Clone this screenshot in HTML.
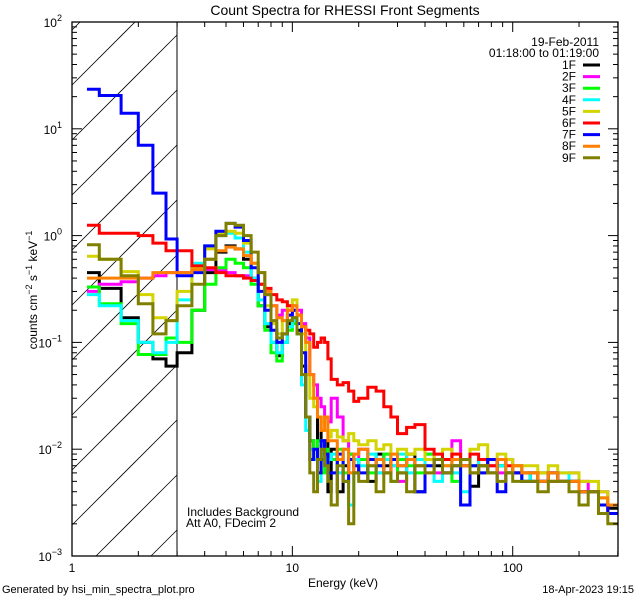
<!DOCTYPE html>
<html><head><meta charset="utf-8"><style>
html,body{margin:0;padding:0;background:#fff;width:640px;height:600px;overflow:hidden;}
svg{display:block;}
svg text{font-family:"Liberation Sans",sans-serif;fill:#000;}
</style></head><body>
<svg id="chart" width="640" height="600" viewBox="0 0 640 600" xmlns="http://www.w3.org/2000/svg" overflow="hidden">
<rect width="640" height="600" fill="#fff"/>
<defs><clipPath id="plotclip"><rect x="72" y="22" width="546" height="534"/></clipPath></defs>
<g id="hatch"></g>
<line x1="177" y1="22" x2="177" y2="556" stroke="#000" stroke-width="1"/>
<g id="series" clip-path="url(#plotclip)"></g>
<rect x="72" y="22" width="546" height="534" fill="none" stroke="#000" stroke-width="1.3"/>
<g id="ticks"></g>
<text x="345" y="15" font-size="14" text-anchor="middle">Count Spectra for RHESSI Front Segments</text>
<text x="343" y="587" font-size="12" text-anchor="middle">Energy (keV)</text>
<text transform="translate(37,290) rotate(-90)" font-size="12" text-anchor="middle">counts cm<tspan dy="-5" font-size="9">−2</tspan><tspan dy="5"> s</tspan><tspan dy="-5" font-size="9">−1</tspan><tspan dy="5"> keV</tspan><tspan dy="-5" font-size="9">−1</tspan></text>
<text x="599" y="46" font-size="12" text-anchor="end">19-Feb-2011</text>
<text x="599" y="57" font-size="12" text-anchor="end">01:18:00 to 01:19:00</text>
<g id="legend"></g>
<text x="187" y="516" font-size="12">Includes Background</text>
<text x="186" y="527" font-size="12">Att A0, FDecim 2</text>
<text x="2" y="593" font-size="11">Generated by hsi_min_spectra_plot.pro</text>
<text x="634" y="593" font-size="11" text-anchor="end">18-Apr-2023 19:15</text>
</svg>
<script>
const edges=[1.17,1.33,1.67,2.0,2.33,2.67,3.0,3.5,4,4.5,5,5.5,6,6.5,7,7.5,8,8.5,9,9.5,10,10.5,11,11.5,12,12.5,13,13.5,14,14.5,15,16,17,18,19,20,22,24,26,28,30,33,36,40,44,48,53,58,64,70,77,85,93,100,110,120,130,145,160,180,200,220,245,270,300];
const seriesNames=["1F","2F","3F","4F","5F","6F","7F","8F","9F"];
const seriesColors=["#000000","#ff00ff","#00ff00","#00ffff","#d4d400","#ff0000","#0000ff","#ff8000","#808000"];
const s1F=[0.45,0.32,0.17,0.1,0.07,0.06, 0.08,0.2,0.45,0.7,0.8,0.75,0.6,0.4,0.22,0.14,0.1,0.075,0.1,0.15,0.17,0.13,0.06,0.02,0.012,0.01,0.02,0.008,0.012,0.004, 0.01,0.004,0.007,0.009,0.006,0.008,0.005,0.009,0.007,0.008,0.006,0.009,0.004,0.008,0.007,0.006,0.008,0.007,0.0045,0.007,0.006,0.007,0.006,0.006,0.005,0.006,0.005,0.006,0.005,0.005,0.004,0.004,0.003,0.0028];
const s2F=[0.3,0.35,0.37,0.4,0.42,0.45, 0.45,0.5,0.48,0.47,0.45,0.42,0.42,0.4,0.35,0.28,0.22,0.18,0.2,0.2,0.22,0.2,0.15,0.11,0.05,0.04,0.03,0.025,0.02,0.018, 0.03,0.02,0.012,0.009,0.006,0.01,0.008,0.006,0.009,0.007,0.005,0.008,0.007,0.009,0.006,0.008,0.012,0.007,0.006,0.008,0.007,0.006,0.008,0.007,0.006,0.005,0.006,0.006,0.005,0.006,0.005,0.004,0.004,0.003];
const s3F=[0.33,0.23,0.15,0.077,0.077,0.11, 0.1,0.2,0.35,0.5,0.6,0.55,0.5,0.35,0.22,0.13,0.08,0.067,0.1,0.13,0.15,0.12,0.05,0.02,0.012,0.008,0.012,0.006,0.01,0.008, 0.008,0.01,0.006,0.009,0.007,0.008,0.006,0.007,0.009,0.005,0.008,0.007,0.006,0.009,0.008,0.007,0.005,0.008,0.007,0.006,0.008,0.007,0.006,0.007,0.006,0.005,0.006,0.005,0.005,0.005,0.004,0.004,0.0035,0.003];
const s4F=[0.28,0.22,0.16,0.1,0.08,0.1, 0.25,0.55,0.8,1.0,1.05,0.95,0.7,0.4,0.25,0.15,0.1,0.08,0.1,0.14,0.16,0.12,0.04,0.015,0.01,0.008,0.005,0.01,0.007,0.008, 0.009,0.006,0.01,0.003,0.008,0.007,0.009,0.006,0.008,0.007,0.009,0.006,0.008,0.007,0.005,0.008,0.006,0.004,0.007,0.008,0.006,0.007,0.006,0.006,0.005,0.006,0.005,0.005,0.006,0.005,0.004,0.004,0.003,0.003];
const s5F=[0.64,0.6,0.46,0.28,0.17,0.16, 0.3,0.5,0.75,1.05,1.1,1.05,0.85,0.55,0.35,0.22,0.15,0.12,0.16,0.22,0.25,0.18,0.12,0.05,0.03,0.025,0.02,0.018,0.015,0.013, 0.015,0.013,0.012,0.014,0.012,0.011,0.012,0.01,0.011,0.009,0.01,0.009,0.01,0.008,0.009,0.01,0.009,0.008,0.01,0.011,0.008,0.009,0.008,0.007,0.007,0.007,0.006,0.007,0.006,0.006,0.005,0.005,0.004,0.003];
const s6F=[1.25,1.05,1.05,1.0,0.85,0.72, 0.72,0.52,0.5,0.45,0.42,0.42,0.4,0.38,0.35,0.32,0.28,0.25,0.24,0.22,0.2,0.18,0.14,0.13,0.12,0.09,0.1,0.11,0.1,0.07, 0.045,0.04,0.042,0.035,0.028,0.03,0.038,0.035,0.025,0.02,0.014,0.016,0.017,0.01,0.009,0.008,0.009,0.008,0.009,0.008,0.007,0.008,0.007,0.006,0.006,0.006,0.005,0.005,0.005,0.005,0.004,0.004,0.003,0.0025];
const s7F=[23.5,20.5,14,7,2.5,0.93, 0.42,0.45,0.8,1.1,1.3,1.2,0.9,0.5,0.3,0.2,0.13,0.1,0.12,0.18,0.2,0.15,0.08,0.02,0.008,0.01,0.006,0.012,0.009,0.006, 0.006,0.009,0.005,0.008,0.007,0.006,0.008,0.007,0.006,0.008,0.007,0.008,0.004,0.007,0.008,0.006,0.007,0.003,0.007,0.006,0.008,0.004,0.006,0.006,0.005,0.005,0.005,0.006,0.005,0.005,0.004,0.004,0.003,0.0025];
const s8F=[0.4,0.4,0.4,0.4,0.45,0.45, 0.45,0.48,0.6,0.72,0.78,0.75,0.65,0.55,0.45,0.3,0.22,0.17,0.16,0.2,0.22,0.18,0.14,0.1,0.05,0.03,0.02,0.015,0.02,0.012, 0.012,0.008,0.01,0.006,0.009,0.01,0.007,0.008,0.006,0.009,0.007,0.008,0.007,0.006,0.008,0.007,0.008,0.007,0.006,0.007,0.006,0.008,0.006,0.007,0.006,0.006,0.005,0.006,0.005,0.005,0.004,0.004,0.0035,0.003];
const s9F=[0.82,0.6,0.42,0.23,0.12,0.16, 0.22,0.35,0.6,1.0,1.3,1.25,1.0,0.7,0.45,0.28,0.16,0.11,0.12,0.16,0.17,0.12,0.05,0.02,0.006,0.004,0.008,0.01,0.007,0.005, 0.003,0.007,0.005,0.002,0.006,0.005,0.007,0.004,0.006,0.005,0.006,0.004,0.007,0.006,0.008,0.006,0.007,0.008,0.006,0.007,0.006,0.005,0.006,0.005,0.005,0.005,0.004,0.005,0.005,0.004,0.003,0.004,0.0025,0.002];
const seriesValues=[s1F,s2F,s3F,s4F,s5F,s6F,s7F,s8F,s9F];
const xMajorTicks=[1,10,100];
const xMinorTicks=[2,3,4,5,6,7,8,9,20,30,40,50,60,70,80,90,200,300];
const yExponents=[-3,-2,-1,0,1,2];

const NS="http://www.w3.org/2000/svg";
const X0=72,X1=618,Y0=22,Y1=556,XMIN=1,XMAX=300.5,YMIN=-3,YMAX=2;
function xs(e){return X0+(Math.log10(e)-Math.log10(XMIN))/(Math.log10(XMAX)-Math.log10(XMIN))*(X1-X0);}
function ys(v){return Y1-(Math.log10(v)-YMIN)/(YMAX-YMIN)*(Y1-Y0);}
function mk(tag,attrs,parent){const el=document.createElementNS(NS,tag);for(const k in attrs)el.setAttribute(k,attrs[k]);parent.appendChild(el);return el;}

const hatch=document.getElementById('hatch');
for(let k=-3;k<14;k++){const c=85+55*k;
 const xa=Math.max(72,72+c-556), xb=Math.min(177,72+c-22);
 if(xa>=xb)continue;
 const ln=mk('line',{x1:xa,y1:c-(xa-72),x2:xb,y2:c-(xb-72),stroke:'#000','stroke-width':0.8},hatch);
 
 }

const sg=document.getElementById('series');
function cy(v){return Math.max(Y0,Math.min(Y1,ys(v)));}
seriesValues.forEach((vals,i)=>{
 let d='M'+xs(edges[0]).toFixed(1)+' '+cy(vals[0]).toFixed(1);
 for(let j=0;j<vals.length;j++){
  if(j>0)d+=' V'+cy(vals[j]).toFixed(1);
  d+=' H'+Math.min(X1,xs(edges[j+1])).toFixed(1);
 }
 const p=mk('path',{d:d,fill:'none',stroke:seriesColors[i],'stroke-width':3,'stroke-linejoin':'miter'},sg);
 
 
});

const tg=document.getElementById('ticks');
function tick(x1,y1,x2,y2,name){const t=mk('line',{x1:x1,y1:y1,x2:x2,y2:y2,stroke:'#000','stroke-width':1},tg);
 
 }
xMajorTicks.forEach(e=>{const x=xs(e);tick(x,Y1,x,Y1-10,'x-major-tick');tick(x,Y0,x,Y0+10,'x-major-tick-top');
 const t=mk('text',{x:x,y:572,'font-size':12,'text-anchor':'middle'},tg);t.textContent=String(e);
 
 });
xMinorTicks.forEach(e=>{const x=Math.min(X1,xs(e));tick(x,Y1,x,Y1-5,'x-minor-tick');tick(x,Y0,x,Y0+5,'x-minor-tick-top');});
yExponents.forEach(p=>{const y=ys(Math.pow(10,p));tick(X0,y,X0+10,y,'y-major-tick');tick(X1,y,X1-10,y,'y-major-tick-right');
 const t=mk('text',{x:62,y:y+5,'font-size':12,'text-anchor':'end'},tg);
 
 
 t.textContent='10';
 const s=mk('tspan',{dy:-6,'font-size':9},t);s.textContent=p<0?'−'+(-p):String(p);
 if(p<2){for(let m=2;m<10;m++){const yy=ys(m*Math.pow(10,p));tick(X0,yy,X0+5,yy,'y-minor-tick');tick(X1,yy,X1-5,yy,'y-minor-tick-right');}}
});

const lg=document.getElementById('legend');
seriesNames.forEach((n,i)=>{const y=69+11.6*i;
 const t=mk('text',{x:576,y:y,'font-size':12,'text-anchor':'end'},lg);t.textContent=n;
 
 
 const l=mk('line',{x1:583,y1:y-4,x2:600,y2:y-4,stroke:seriesColors[i],'stroke-width':3},lg);
 
 });
</script>
</body></html>
